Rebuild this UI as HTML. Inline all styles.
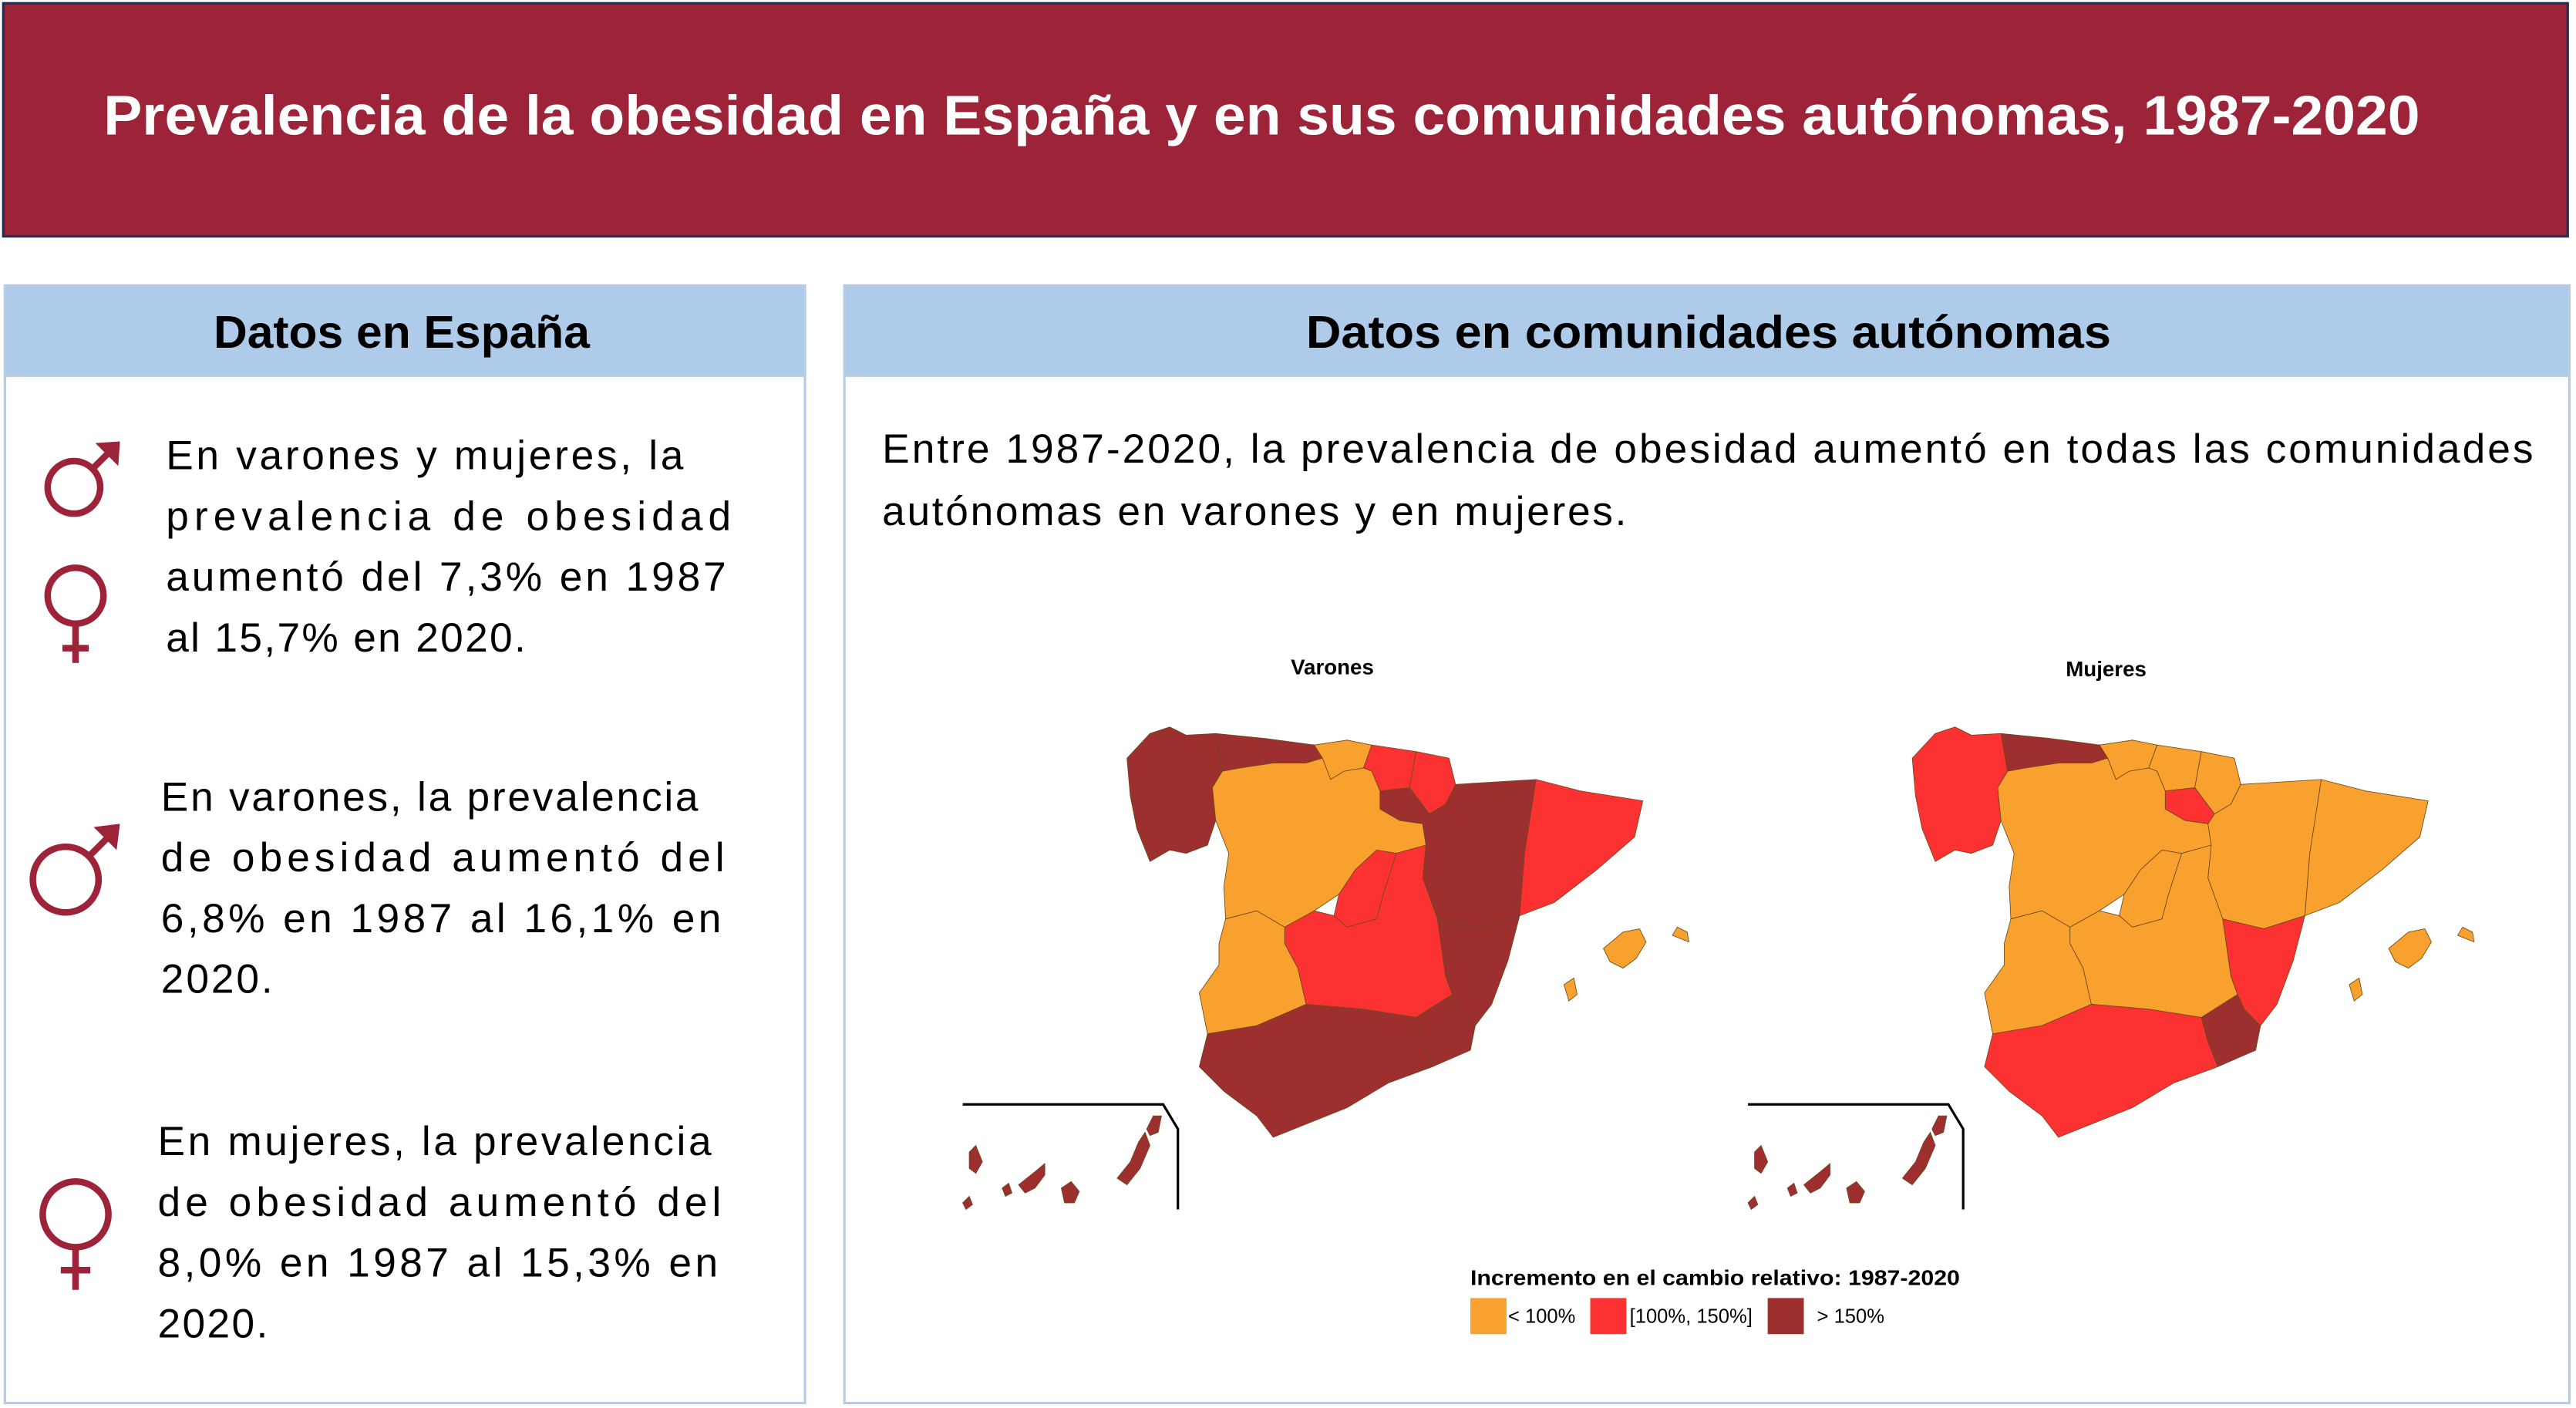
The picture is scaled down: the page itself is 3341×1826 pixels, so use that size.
<!DOCTYPE html>
<html><head><meta charset="utf-8"><style>
html,body{margin:0;padding:0;background:#fff;}
svg{display:block;}
text{font-family:"Liberation Sans",sans-serif;}
</style></head><body>
<svg id="root" width="3341" height="1826" viewBox="0 0 3341 1826">
<g id="s" transform="scale(2.1307,2.1282)">
  <rect x="2" y="2" width="1561" height="142" fill="#9c2338" stroke="#1f2f55" stroke-width="1.5"/>
  <text x="63" y="82" font-size="34" font-weight="bold" fill="#fff" textLength="1410" lengthAdjust="spacingAndGlyphs">Prevalencia de la obesidad en España y en sus comunidades autónomas, 1987-2020</text>

  <g>
    <rect x="3" y="174" width="487" height="681" fill="#fff" stroke="#b8cce4" stroke-width="1.5"/>
    <rect x="3" y="174" width="487" height="55" fill="#aecbea" stroke="#b8cce4" stroke-width="1.5"/>
    <text x="130" y="212" font-size="28" font-weight="bold" fill="#000" textLength="229" lengthAdjust="spacingAndGlyphs">Datos en España</text>
  </g>
  <g>
    <rect x="514" y="174" width="1050" height="681" fill="#fff" stroke="#b8cce4" stroke-width="1.5"/>
    <rect x="514" y="174" width="1050" height="55" fill="#aecbea" stroke="#b8cce4" stroke-width="1.5"/>
    <text x="795" y="212" font-size="28" font-weight="bold" fill="#000" textLength="490" lengthAdjust="spacingAndGlyphs">Datos en comunidades autónomas</text>
  </g>

  <g font-size="25" fill="#000">
    <text x="101" y="286" textLength="315" lengthAdjust="spacing">En varones y mujeres, la</text>
    <text x="101" y="323" textLength="344" lengthAdjust="spacing">prevalencia de obesidad</text>
    <text x="101" y="360" textLength="341" lengthAdjust="spacing">aumentó del 7,3% en 1987</text>
    <text x="101" y="397" textLength="219" lengthAdjust="spacing">al 15,7% en 2020.</text>
    <text x="98" y="494" textLength="327" lengthAdjust="spacing">En varones, la prevalencia</text>
    <text x="98" y="531" textLength="343" lengthAdjust="spacing">de obesidad aumentó del</text>
    <text x="98" y="568" textLength="341" lengthAdjust="spacing">6,8% en 1987 al 16,1% en</text>
    <text x="98" y="605" textLength="68" lengthAdjust="spacing">2020.</text>
    <text x="96" y="704" textLength="337" lengthAdjust="spacing">En mujeres, la prevalencia</text>
    <text x="96" y="741" textLength="343" lengthAdjust="spacing">de obesidad aumentó del</text>
    <text x="96" y="778" textLength="341" lengthAdjust="spacing">8,0% en 1987 al 15,3% en</text>
    <text x="96" y="815" textLength="67" lengthAdjust="spacing">2020.</text>
  </g>

  <g stroke="#9c2338" fill="none" stroke-width="4">
    <g><circle cx="45" cy="297" r="16"/><line x1="56" y1="286" x2="68" y2="274"/><polygon points="58,270 73,269 72,284" fill="#9c2338" stroke="none"/></g>
    <g><circle cx="46" cy="363" r="17"/><line x1="46" y1="380" x2="46" y2="404"/><line x1="38" y1="395" x2="54" y2="395"/></g>
    <g><circle cx="40" cy="536" r="20"/><line x1="54" y1="522" x2="67" y2="509"/><polygon points="57,504 73,502 71,518" fill="#9c2338" stroke="none"/></g>
    <g><circle cx="46" cy="740" r="20"/><line x1="46" y1="760" x2="46" y2="786"/><line x1="37" y1="774" x2="55" y2="774"/></g>
  </g>

  <g font-size="25" fill="#000">
    <text x="537" y="282" textLength="1005" lengthAdjust="spacing">Entre 1987-2020, la prevalencia de obesidad aumentó en todas las comunidades</text>
    <text x="537" y="320" textLength="453" lengthAdjust="spacing">autónomas en varones y en mujeres.</text>
  </g>

  <text x="811" y="411" font-size="13" font-weight="bold" text-anchor="middle">Varones</text>
  <text x="1282" y="412" font-size="13" font-weight="bold" text-anchor="middle">Mujeres</text>
  <g id="maps"></g>

  <g>
    <text x="895" y="783" font-size="13" font-weight="bold" textLength="298" lengthAdjust="spacingAndGlyphs">Incremento en el cambio relativo: 1987-2020</text>
    <g id="legendItems"></g>
  </g>
</g>
</svg>
<script>
const categories = ["< 100%", "[100%, 150%]", "> 150%"];
const categoryColors = ["#f9a12e", "#fc3232", "#9e2f2f"];
const regions = ["galicia","asturias","cantabria","pais-vasco","navarra","la-rioja","castilla-leon","aragon","cataluna","madrid","castilla-la-mancha","extremadura","valencia","murcia","andalucia","baleares","canarias"];
const varonesClass = [2,2,0,1,1,2,0,2,1,1,1,0,2,2,2,0,2];
const mujeresClass = [1,2,0,0,0,1,0,0,0,0,0,0,1,2,1,0,2];

const shapes = {
  "galicia":[[[686,462],[700,447],[712,443],[722,448],[740,447],[744,470],[738,480],[740,500],[735,515],[722,520],[712,518],[700,525],[692,505],[688,485]]],
  "asturias":[[[740,447],[770,450],[800,454],[805,462],[795,465],[775,465],[755,468],[744,470]]],
  "cantabria":[[[800,454],[820,451],[835,454],[830,468],[818,470],[810,475],[805,462]]],
  "pais-vasco":[[[835,454],[862,458],[858,480],[840,482],[835,470],[830,468]]],
  "navarra":[[[862,458],[882,462],[886,478],[880,490],[870,496],[858,480]]],
  "la-rioja":[[[840,482],[858,480],[870,496],[866,502],[852,500],[840,493]]],
  "castilla-leon":[[[744,470],[755,468],[775,465],[795,465],[805,462],[810,475],[818,470],[830,468],[835,470],[840,482],[840,493],[852,500],[866,502],[868,515],[850,520],[838,518],[825,530],[815,545],[800,555],[782,565],[765,555],[746,560],[745,540],[748,520],[740,500],[738,480]]],
  "aragon":[[[886,478],[935,475],[928,520],[925,558],[900,566],[875,560],[866,535],[868,515],[866,502],[870,496],[880,490]]],
  "cataluna":[[[935,475],[962,482],[1000,488],[995,510],[972,530],[946,550],[925,558],[928,520]]],
  "madrid":[[[815,545],[825,530],[838,518],[850,520],[842,545],[838,560],[820,565],[812,558]]],
  "castilla-la-mancha":[[[782,565],[800,555],[812,558],[820,565],[838,560],[842,545],[850,520],[868,515],[866,535],[875,560],[880,595],[884,606],[862,620],[830,615],[795,612],[790,590],[782,575]]],
  "extremadura":[[[746,560],[765,555],[782,565],[782,575],[790,590],[795,612],[765,625],[735,630],[730,605],[742,588],[742,575]]],
  "valencia":[[[875,560],[900,566],[925,558],[918,585],[908,612],[898,625],[888,615],[884,606],[880,595]]],
  "murcia":[[[862,620],[884,606],[888,615],[898,625],[895,640],[872,650],[866,635]]],
  "andalucia":[[[735,630],[765,625],[795,612],[830,615],[862,620],[866,635],[872,650],[845,660],[820,675],[795,685],[775,693],[765,680],[745,665],[730,650]]],
  "baleares":[
    [[976,578],[988,568],[998,566],[1002,574],[996,584],[988,590],[980,586]],
    [[1018,570],[1021,565],[1027,568],[1028,574]],
    [[952,600],[958,596],[960,606],[955,610]]
  ],
  "canarias":[
    [[590,702],[594,698],[598,708],[594,715],[590,712]],
    [[586,733],[590,729],[592,734],[588,737]],
    [[610,724],[614,721],[616,727],[612,729]],
    [[620,722],[630,714],[636,709],[636,716],[630,724],[624,727]],
    [[646,724],[652,720],[657,726],[654,733],[648,733]],
    [[680,718],[688,708],[693,696],[697,690],[700,698],[694,712],[686,722]],
    [[698,688],[702,680],[707,680],[705,690],[700,692]]
  ]
};

function pts(arr, dx){ return arr.map(p => (p[0]+dx)+","+p[1]).join(" "); }

const ns = "http://www.w3.org/2000/svg";
const maps = document.getElementById("maps");
function drawMap(cls, dx, name){
  const g = document.createElementNS(ns,"g");
  
  
  regions.forEach((r,i) => {
    const color = categoryColors[cls[i]];
    shapes[r].forEach(p => {
      const el = document.createElementNS(ns,"polygon");
      el.setAttribute("points", pts(p, dx));
      el.setAttribute("fill", color);
      el.setAttribute("stroke", "#6b4a1e");
      el.setAttribute("stroke-width", "0.4");
      
      
      g.appendChild(el);
    });
  });
  const inset = document.createElementNS(ns,"polyline");
  inset.setAttribute("points", pts([[586,673],[708,673],[717,688],[717,737]], dx));
  inset.setAttribute("fill","none");
  inset.setAttribute("stroke","#000");
  inset.setAttribute("stroke-width","1.5");
  
  
  g.appendChild(inset);
  maps.appendChild(g);
}
drawMap(varonesClass, 0, "varones-map");
drawMap(mujeresClass, 478, "mujeres-map");

const legendX = [895, 968, 1076];
const legendLabelX = [918, 992, 1106];
const li = document.getElementById("legendItems");
categories.forEach((c,i) => {
  const r = document.createElementNS(ns,"rect");
  r.setAttribute("x", legendX[i]); r.setAttribute("y", 791);
  r.setAttribute("width", 22); r.setAttribute("height", 22);
  r.setAttribute("fill", categoryColors[i]);
  
  
  li.appendChild(r);
  const t = document.createElementNS(ns,"text");
  t.setAttribute("x", legendLabelX[i]); t.setAttribute("y", 806);
  t.setAttribute("font-size", "12");
  t.textContent = c;
  
  
  li.appendChild(t);
});
</script>
</body></html>
